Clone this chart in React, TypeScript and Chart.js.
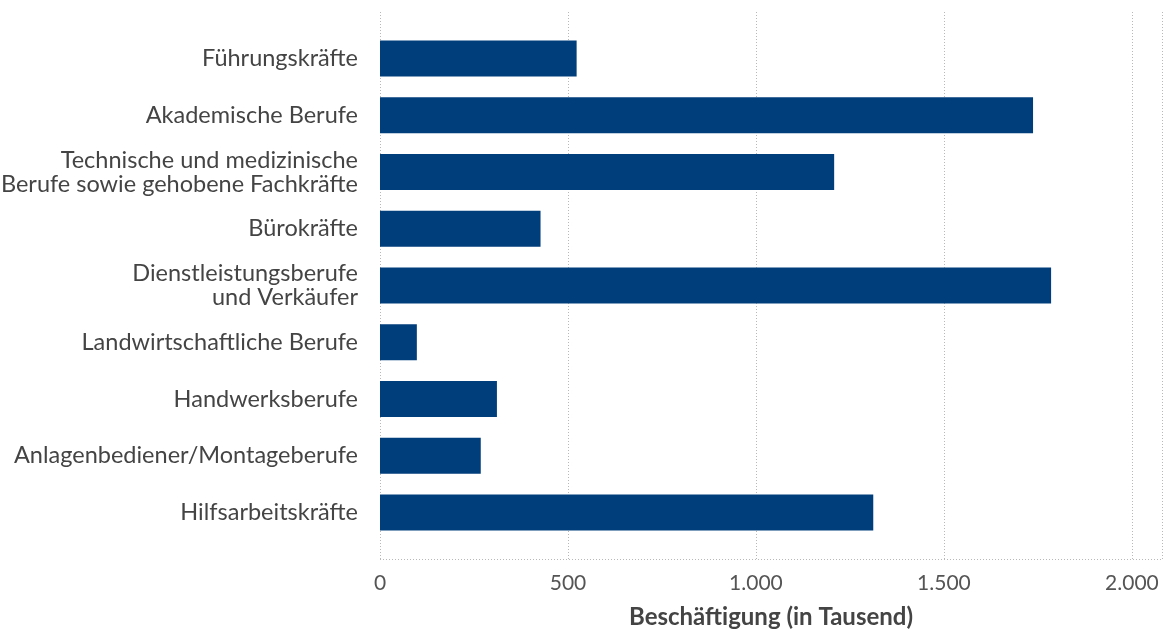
import React, { useEffect, useRef } from "react";
import { Chart, registerables } from "chart.js";

Chart.register(...registerables);

const categories: (string | string[])[] = [
  "Führungskräfte",
  "Akademische Berufe",
  ["Technische und medizinische", "Berufe sowie gehobene Fachkräfte"],
  "Bürokräfte",
  ["Dienstleistungsberufe", "und Verkäufer"],
  "Landwirtschaftliche Berufe",
  "Handwerksberufe",
  "Anlagenbediener/Montageberufe",
  "Hilfsarbeitskräfte",
];
const employment = [523, 1737, 1208, 427, 1785, 98, 311, 268, 1312];
const xTickValues = [0, 500, 1000, 1500, 2000];
const xAxisTitle = "Beschäftigung (in Tausend)";

const FONT = "Lato, 'Source Sans Pro', sans-serif";

function fmt(v: number): string {
  return String(Math.round(v)).replace(/\B(?=(\d{3})+(?!\d))/g, ".");
}

const dottedGrid = {
  id: "dottedGrid",
  beforeDatasetsDraw(chart: any) {
    const { ctx, chartArea, scales } = chart;
    const x = scales.x;
    const ext = 18;
    ctx.save();
    ctx.fillStyle = "#b8b8b8";
    const top = chartArea.top - ext;
    const bottom = chartArea.bottom + ext;
    for (const v of xTickValues) {
      const px = Math.round(x.getPixelForValue(v));
      for (let y = top; y <= bottom; y += 3) {
        ctx.fillRect(px, y, 1, 1);
      }
    }
    const rpx = Math.round(chartArea.right);
    for (let y = top; y <= bottom; y += 3) ctx.fillRect(rpx, y, 1, 1);
    for (let xx = chartArea.left; xx <= chartArea.right; xx += 3) {
      ctx.fillRect(Math.round(xx), Math.round(bottom), 1, 1);
    }
    ctx.restore();
  },
};

export default function App() {
  const ref = useRef<HTMLCanvasElement | null>(null);
  useEffect(() => {
    document.body.style.margin = "0";
    if (!ref.current) return;
    const chart = new Chart(ref.current, {
      type: "bar",
      data: {
        labels: categories as any,
        datasets: [
          {
            data: employment,
            backgroundColor: "#003d7b",
            borderWidth: 0,
            barPercentage: 0.9,
            categoryPercentage: 0.705,
          },
        ],
      },
      options: {
        indexAxis: "y",
        animation: false,
        responsive: false,
        maintainAspectRatio: false,
        layout: { padding: { top: 30, right: 7, left: 0, bottom: 0 } },
        plugins: {
          legend: { display: false },
          tooltip: { enabled: false },
        },
        scales: {
          x: {
            type: "linear",
            min: 0,
            max: 2080,
            afterBuildTicks: (scale: any) => {
              scale.ticks = xTickValues.map((v) => ({ value: v }));
            },
            afterFit: (scale: any) => {
              scale.paddingLeft = 0;
              scale.paddingRight = 0;
              scale.height = 89;
            },
            ticks: {
              callback: (v: any) => fmt(Number(v)),
              color: "#555",
              font: { family: FONT, size: 21, lineHeight: 1.2 },
              padding: 30,
              maxRotation: 0,
            },
            grid: { display: false, drawTicks: false },
            border: { display: false },
            title: {
              display: true,
              text: xAxisTitle,
              color: "#444",
              font: { family: FONT, size: 24, weight: "bold", lineHeight: 1.1 },
              padding: { top: 7, bottom: 0 },
            },
          },
          y: {
            type: "category",
            offset: true,
            afterFit: (scale: any) => {
              scale.width = 380;
              scale.paddingTop = 0;
              scale.paddingBottom = 0;
            },
            ticks: {
              color: "#444",
              font: { family: FONT, size: 23.5, lineHeight: 1.02 },
              padding: 22,
            },
            grid: { display: false, drawTicks: false },
            border: { display: false },
          },
        },
      },
      plugins: [dottedGrid],
    });
    return () => chart.destroy();
  }, []);
  return (
    <div style={{ position: "relative", width: 1169, height: 630 }}>
      <canvas ref={ref} width={1169} height={630} style={{ display: "block" }} />
    </div>
  );
}
